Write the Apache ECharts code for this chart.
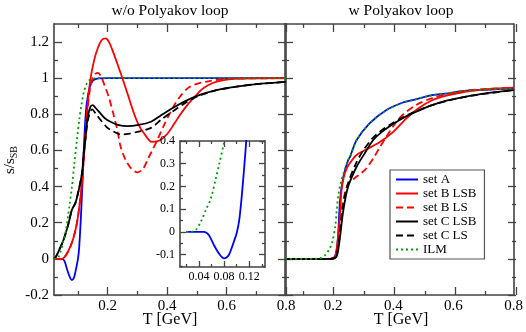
<!DOCTYPE html>
<html>
<head>
<meta charset="utf-8">
<script src="https://cdn.jsdelivr.net/npm/echarts@6/dist/echarts.min.js"></script>
<style>
html, body { margin: 0; padding: 0; background: #fff; }
#chart { width: 526px; height: 332px; }
</style>
</head>
<body>
<div id="chart"></div>
<script>
// s/s_SB vs T [GeV]
// left panel: without Polyakov loop
const woA = [[0.02,0],[0.048,0],[0.056,-0.015],[0.064,-0.059],[0.072,-0.096],[0.08,-0.117],[0.084,-0.113],[0.088,-0.1],[0.092,-0.072],[0.096,-0.04],[0.1,-0.006],[0.104,0.05],[0.108,0.155],[0.112,0.285],[0.116,0.43],[0.12,0.6],[0.125,0.76],[0.13,0.86],[0.14,0.95],[0.15,0.985],[0.165,0.998],[0.2,1],[0.8,1]]
const woBLSB = [[0.02,0],[0.046,0],[0.06,0.02],[0.075,0.068],[0.086,0.12],[0.097,0.197],[0.106,0.3],[0.114,0.418],[0.12,0.55],[0.125,0.66],[0.133,0.85],[0.142,0.99],[0.155,1.1],[0.168,1.17],[0.18,1.21],[0.193,1.22],[0.205,1.2],[0.22,1.14],[0.235,1.07],[0.25,1.0],[0.27,0.9],[0.289,0.805],[0.305,0.74],[0.323,0.694],[0.349,0.648],[0.375,0.655],[0.402,0.694],[0.425,0.75],[0.447,0.805],[0.47,0.855],[0.493,0.897],[0.515,0.935],[0.538,0.961],[0.57,0.982],[0.606,0.993],[0.65,0.998],[0.8,1]]
const woBLS = [[0.02,0],[0.046,0],[0.06,0.02],[0.075,0.068],[0.086,0.12],[0.097,0.197],[0.106,0.3],[0.114,0.42],[0.12,0.56],[0.13,0.78],[0.14,0.93],[0.15,1.0],[0.16,1.025],[0.168,1.03],[0.178,1.01],[0.19,0.96],[0.204,0.897],[0.22,0.8],[0.233,0.713],[0.244,0.62],[0.261,0.547],[0.28,0.5],[0.30,0.479],[0.32,0.5],[0.335,0.55],[0.35,0.6],[0.368,0.66],[0.39,0.74],[0.414,0.82],[0.43,0.865],[0.447,0.905],[0.47,0.945],[0.493,0.965],[0.538,0.983],[0.6,0.996],[0.8,1]]
const woCLSB = [[0.02,0],[0.024,0.005],[0.035,0.04],[0.052,0.105],[0.069,0.197],[0.08,0.27],[0.092,0.31],[0.103,0.38],[0.114,0.473],[0.12,0.584],[0.125,0.66],[0.133,0.78],[0.142,0.84],[0.15,0.851],[0.16,0.835],[0.176,0.805],[0.19,0.78],[0.21,0.759],[0.235,0.742],[0.267,0.735],[0.3,0.74],[0.346,0.759],[0.38,0.795],[0.425,0.841],[0.47,0.88],[0.515,0.91],[0.57,0.935],[0.628,0.952],[0.7,0.967],[0.8,0.98]]
const woCLS = [[0.02,0],[0.024,0.005],[0.035,0.04],[0.052,0.105],[0.069,0.197],[0.08,0.27],[0.092,0.31],[0.103,0.38],[0.114,0.473],[0.12,0.584],[0.125,0.65],[0.133,0.76],[0.142,0.815],[0.148,0.827],[0.16,0.805],[0.176,0.77],[0.2,0.725],[0.22,0.705],[0.244,0.689],[0.27,0.692],[0.3,0.703],[0.346,0.725],[0.38,0.77],[0.425,0.823],[0.46,0.862],[0.49,0.89],[0.515,0.908],[0.57,0.935],[0.628,0.952],[0.7,0.967],[0.8,0.98]]
const woILM = [[0.02,0],[0.027,0],[0.035,0.008],[0.043,0.044],[0.051,0.096],[0.059,0.147],[0.067,0.236],[0.072,0.295],[0.08,0.395],[0.088,0.52],[0.097,0.66],[0.105,0.77],[0.112,0.85],[0.12,0.92],[0.13,0.97],[0.14,0.99],[0.16,1],[0.8,1]]

// right panel: with Polyakov loop
const wA = [[0.04,0],[0.19,0],[0.205,0.01],[0.212,0.05],[0.217,0.14],[0.223,0.326],[0.234,0.455],[0.25,0.547],[0.256,0.565],[0.278,0.657],[0.321,0.75],[0.376,0.823],[0.43,0.864],[0.463,0.878],[0.529,0.906],[0.573,0.915],[0.638,0.93],[0.8,0.943]]
const wBLSB = [[0.04,0],[0.19,0],[0.205,0.01],[0.212,0.06],[0.218,0.15],[0.223,0.25],[0.228,0.38],[0.235,0.45],[0.245,0.5],[0.26,0.54],[0.278,0.575],[0.31,0.605],[0.354,0.645],[0.398,0.7],[0.442,0.775],[0.485,0.835],[0.529,0.878],[0.58,0.905],[0.638,0.925],[0.7,0.937],[0.8,0.948]]
const wBLS = [[0.04,0],[0.19,0],[0.205,0.005],[0.212,0.04],[0.22,0.14],[0.228,0.27],[0.24,0.37],[0.25,0.415],[0.27,0.445],[0.294,0.475],[0.31,0.5],[0.335,0.56],[0.354,0.615],[0.375,0.67],[0.398,0.73],[0.43,0.795],[0.474,0.85],[0.529,0.89],[0.58,0.913],[0.638,0.93],[0.7,0.94],[0.8,0.948]]
const wCLSB = [[0.04,0],[0.19,0],[0.21,0.01],[0.217,0.05],[0.223,0.123],[0.234,0.27],[0.25,0.4],[0.278,0.51],[0.305,0.584],[0.332,0.655],[0.36,0.7],[0.398,0.745],[0.43,0.777],[0.463,0.805],[0.529,0.851],[0.58,0.877],[0.638,0.897],[0.7,0.915],[0.8,0.934]]
const wCLS = [[0.04,0],[0.19,0],[0.208,0.01],[0.215,0.05],[0.222,0.13],[0.232,0.28],[0.248,0.41],[0.275,0.525],[0.3,0.6],[0.33,0.665],[0.36,0.71],[0.398,0.752],[0.43,0.782],[0.463,0.808],[0.529,0.851],[0.638,0.897],[0.8,0.934]]
const wILM = [[0.04,0],[0.14,0],[0.16,0.005],[0.174,0.022],[0.186,0.05],[0.196,0.087],[0.207,0.18],[0.212,0.27],[0.217,0.35],[0.225,0.42],[0.234,0.47],[0.25,0.547],[0.256,0.565],[0.278,0.657],[0.321,0.75],[0.376,0.823],[0.43,0.864],[0.463,0.878],[0.529,0.906],[0.573,0.915],[0.638,0.93],[0.8,0.943]]

const names = ['set A', 'set B LSB', 'set B LS', 'set C LSB', 'set C LS', 'ILM']
const xLabels = [0.2, 0.4, 0.6, 0.8]
const yLabels = [-0.2, 0, 0.2, 0.4, 0.6, 0.8, 1, 1.2]
const insetXLabels = [0.04, 0.08, 0.12]
const insetYLabels = [-0.1, 0, 0.1, 0.2, 0.3, 0.4]

const font = 'Liberation Serif'
const frame = '#444'
const colors = ['#0000ff', '#ff0000', '#ff0000', '#000000', '#000000', '#00a000']
const dash = ['solid', 'solid', [7, 4], 'solid', [7, 4], [2, 3]]
const fmt = v => String(+(+v).toFixed(2))

let grids = [], xAxes = [], yAxes = []

// main panel: frame + labels, returns index of its x/y axis
function panel(rect, xr, yr, xl, yl, fs, z, bg) {
  const g = grids.length
  grids.push(Object.assign({}, rect, bg ? { show: true, backgroundColor: '#fff', borderWidth: 0, z: z - 1 } : {}))
  const xi = xAxes.length, yi = yAxes.length
  ;['bottom', 'top'].forEach((pos, k) => xAxes.push({
    type: 'value', gridIndex: g, position: pos, min: xr[0], max: xr[1], z: z,
    axisLine: { show: true, onZero: false, lineStyle: { color: frame, width: 1.6 } },
    axisTick: { show: false }, splitLine: { show: false },
    axisLabel: { show: k === 0 && !!xl, customValues: xl || [], margin: 4, formatter: fmt, fontFamily: font, fontSize: fs, color: '#000' }
  }))
  ;['left', 'right'].forEach((pos, k) => yAxes.push({
    type: 'value', gridIndex: g, position: pos, min: yr[0], max: yr[1], z: z,
    axisLine: { show: true, onZero: false, lineStyle: { color: frame, width: 1.6 } },
    axisTick: { show: false }, splitLine: { show: false },
    axisLabel: { show: k === 0 && !!yl, customValues: yl || [], margin: 5, formatter: fmt, fontFamily: font, fontSize: fs, color: '#000' }
  }))
  return [xi, yi]
}

// tick marks on both sides: an extra grid whose range starts at the first tick
function ticks(rect, xr, yr, dir, a, b, step, len, z) {
  const g = grids.length
  let r = Object.assign({}, rect)
  if (dir === 'x') {
    const k = rect.width / (xr[1] - xr[0])
    r.left = rect.left + (a - xr[0]) * k
    r.width = (b - a) * k
  } else {
    const k = rect.height / (yr[1] - yr[0])
    r.top = rect.top + (yr[1] - b) * k
    r.height = (b - a) * k
  }
  grids.push(r)
  const tk = { show: true, inside: true, length: len, lineStyle: { color: frame, width: 1.3 } }
  const off = { show: false, type: 'value', gridIndex: g, min: 0, max: 1 }
  if (dir === 'x') {
    ;['bottom', 'top'].forEach(pos => xAxes.push({ type: 'value', gridIndex: g, position: pos, min: a, max: b, interval: step, z: z,
      axisLine: { show: false }, axisTick: tk, axisLabel: { show: false }, splitLine: { show: false } }))
    yAxes.push(off)
  } else {
    ;['left', 'right'].forEach(pos => yAxes.push({ type: 'value', gridIndex: g, position: pos, min: a, max: b, interval: step, z: z,
      axisLine: { show: false }, axisTick: tk, axisLabel: { show: false }, splitLine: { show: false } }))
    xAxes.push(off)
  }
}

const leftRect = { left: 54, top: 24, width: 232, height: 271 }
const rightRect = { left: 285, top: 24, width: 231, height: 271 }
const insetRect = { left: 180, top: 141, width: 85, height: 126 }
const leftX = [0.02, 0.8], rightX = [0.04, 0.8], mainY = [-0.2, 1.3]
const insetX = [0.01, 0.145], insetY = [-0.155, 0.4]

const pL = panel(leftRect, leftX, mainY, xLabels, yLabels, 15, 2, false)
const pR = panel(rightRect, rightX, mainY, xLabels, null, 15, 2, false)
;[[leftRect, leftX], [rightRect, rightX]].forEach(([rc, xr]) => {
  ticks(rc, xr, mainY, 'x', 0.2, 0.8, 0.2, 8, 2)
  ticks(rc, xr, mainY, 'x', 0.1, 0.7, 0.2, 4, 2)
  ticks(rc, xr, mainY, 'y', -0.2, 1.2, 0.2, 8, 2)
  ticks(rc, xr, mainY, 'y', -0.1, 1.1, 0.2, 4, 2)
})
const pI = panel(insetRect, insetX, insetY, insetXLabels, insetYLabels, 12, 30, true)
ticks(insetRect, insetX, insetY, 'x', 0.04, 0.12, 0.04, 6, 30)
ticks(insetRect, insetX, insetY, 'x', 0.02, 0.14, 0.04, 3, 30)
ticks(insetRect, insetX, insetY, 'y', -0.1, 0.4, 0.1, 6, 30)
ticks(insetRect, insetX, insetY, 'y', -0.15, 0.35, 0.1, 3, 30)

function mk(name, i, data, p, z) {
  return {
    name: name, type: 'line', data: data, xAxisIndex: p[0], yAxisIndex: p[1],
    showSymbol: false, symbol: 'none', smooth: 0.3, clip: true, z: z + i,
    lineStyle: { color: colors[i], width: 1.8, type: dash[i] },
    itemStyle: { color: colors[i] }
  }
}
const wo = [woA, woBLSB, woBLS, woCLSB, woCLS, woILM]
const w = [wA, wBLSB, wBLS, wCLSB, wCLS, wILM]
let series = []
names.forEach((n, i) => series.push(mk(n, i, wo[i], pL, 3)))
names.forEach((n, i) => series.push(mk(n, i, w[i], pR, 3)))
series.push(mk('set A', 0, woA, pI, 30))
series.push(mk('ILM', 5, woILM, pI, 30))

function txt(x, y, s, size) {
  return { type: 'text', x: x, y: y, z: 100,
    style: { text: s, font: size + 'px "' + font + '"', fill: '#000', textAlign: 'center', textVerticalAlign: 'middle', align: 'center', verticalAlign: 'middle' } }
}

let chart = echarts.init(document.getElementById('chart'), null, { renderer: 'canvas' })
chart.setOption({
  animation: false,
  backgroundColor: '#fff',
  grid: grids,
  xAxis: xAxes,
  yAxis: yAxes,
  legend: {
    data: names, orient: 'vertical', left: 390, top: 170, z: 50,
    itemWidth: 22, itemHeight: 12, itemGap: 1,
    padding: [3, 8, 3, 5], borderColor: '#555', borderWidth: 1.2, backgroundColor: '#fff',
    itemStyle: { opacity: 0 },
    textStyle: { fontFamily: font, fontSize: 13, color: '#000', lineHeight: 13 }
  },
  graphic: [
    txt(170, 11, 'w/o Polyakov loop', 15.5),
    txt(401, 11, 'w Polyakov loop', 15.5),
    txt(170, 320, 'T [GeV]', 16),
    txt(401, 320, 'T [GeV]', 16),
    { type: 'text', x: 10, y: 160, rotation: Math.PI / 2, z: 100,
      style: { text: '{m|s/s}{s|SB}', textAlign: 'center', textVerticalAlign: 'middle', align: 'center', verticalAlign: 'middle',
        rich: {
          m: { fontFamily: font, fontSize: 15, lineHeight: 18, verticalAlign: 'middle', fill: '#000' },
          s: { fontFamily: font, fontSize: 10, lineHeight: 18, verticalAlign: 'bottom', fill: '#000' }
        } } }
  ],
  series: series
})
</script>
</body>
</html>
